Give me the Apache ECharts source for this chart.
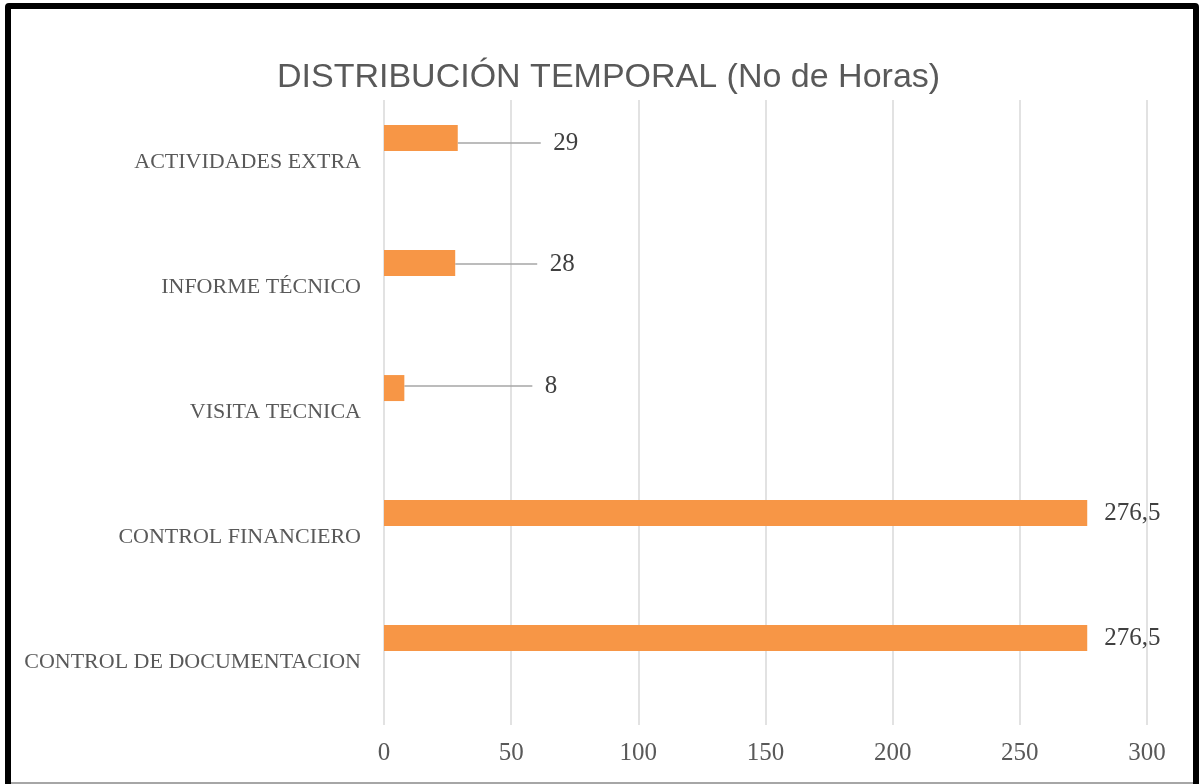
<!DOCTYPE html>
<html>
<head>
<meta charset="utf-8">
<script src="https://cdn.jsdelivr.net/npm/echarts@6/dist/echarts.min.js"></script>
<style>
  html, body { margin: 0; padding: 0; background: #fff; }
  #wrap { position: relative; width: 1199px; height: 784px; overflow: hidden; background: #fff; }
  #frame { position: absolute; left: 5px; top: 3px; width: 1182px; height: 800px; border: 6px solid #000; border-radius: 4px; box-sizing: content-box; }
  #bottomline { position: absolute; left: 11px; top: 782px; width: 1182px; height: 2px; background: #a6a6a6; }
  #chart { position: absolute; left: 0; top: 0; width: 1199px; height: 784px; }
</style>
</head>
<body>
<div id="wrap">
  <div id="frame"></div>
  <div id="bottomline"></div>
  <div id="chart"></div>
</div>
<script>
// ---- data ----
const titleText = 'DISTRIBUCIÓN TEMPORAL (No de Horas)';
const categories = ['CONTROL DE DOCUMENTACION', 'CONTROL FINANCIERO', 'VISITA TECNICA', 'INFORME TÉCNICO', 'ACTIVIDADES EXTRA'];
const hours = [276.5, 276.5, 8, 28, 29];
const axisMin = 0;
const axisMax = 300;
const axisStep = 50;

// ---- label callout offsets (style only) ----
const calloutDx = [0, 0, 111, 65, 66];
const calloutDy = [0, 0, -2, 1, 5];
const calloutLine = [false, false, true, true, true];

const serif = "'Liberation Serif', 'DejaVu Serif', serif";
const sans = "'Liberation Sans', 'DejaVu Sans', sans-serif";

const chart = echarts.init(document.getElementById('chart'), null, { renderer: 'canvas' });

const barData = hours.map((v, i) => ({
  value: v,
  labelLine: { show: calloutLine[i] }
}));

chart.setOption({
  animation: false,
  backgroundColor: 'transparent',
  title: {
    text: titleText,
    left: 272,
    top: 56,
    textStyle: { fontFamily: sans, fontSize: 34, fontWeight: 'normal', color: '#595959' }
  },
  grid: { left: 384, right: 52, top: 100, bottom: 59, containLabel: false },
  xAxis: {
    type: 'value',
    min: axisMin,
    max: axisMax,
    interval: axisStep,
    axisLine: { show: false },
    axisTick: { show: false },
    axisLabel: { fontFamily: serif, fontSize: 25, color: '#595959', margin: 16 },
    splitLine: { show: true, lineStyle: { color: '#d9d9d9', width: 1.5 } }
  },
  yAxis: {
    type: 'category',
    data: categories,
    axisLine: { show: false },
    axisTick: { show: false },
    splitLine: { show: false },
    axisLabel: { fontFamily: serif, fontSize: 22, color: '#595959', margin: 23 }
  },
  series: [
    {
      name: 'Horas',
      type: 'bar',
      data: barData,
      barWidth: 26,
      barGap: '88%',
      itemStyle: { color: '#F79646' },
      label: {
        show: true,
        position: 'right',
        distance: 17,
        fontFamily: serif,
        fontSize: 25,
        color: '#404040',
        formatter: p => (calloutLine[p.dataIndex] ? '\u00a0\u00a0' : '') + String(p.value).replace('.', ',')
      },
      labelLine: { show: true, lineStyle: { color: '#a6a6a6', width: 1.5 } },
      labelLayout: function (params) {
        return { dx: calloutDx[params.dataIndex], dy: calloutDy[params.dataIndex] };
      }
    },
    {
      name: 'vacío',
      type: 'bar',
      data: hours.map(() => null),
      barWidth: 26,
      itemStyle: { color: '#4F81BD' }
    }
  ]
});
</script>
</body>
</html>
